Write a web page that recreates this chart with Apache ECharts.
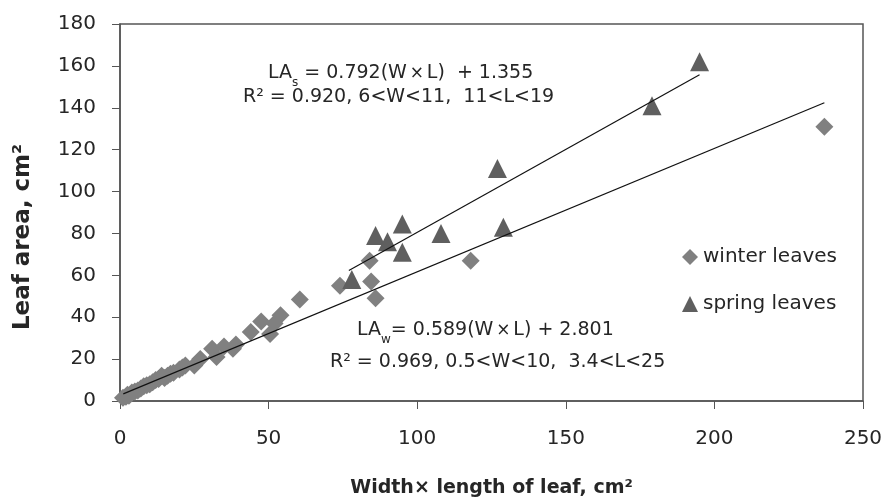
<!DOCTYPE html>
<html>
<head>
<meta charset="utf-8">
<script src="https://cdn.jsdelivr.net/npm/echarts@6/dist/echarts.min.js"></script>
<style>
  html, body { margin: 0; padding: 0; background: #fff; }
  #chart { width: 885px; height: 502px; }
</style>
</head>
<body>
<div id="chart"></div>
<script>
// width x length (cm2) vs leaf area (cm2)
const winterLeaves = [
  [1, 1.5], [2, 2], [2.5, 3], [3, 2.5], [4, 4], [5, 4.5], [6, 5], [7, 6], [8, 7],
  [9, 7.5], [10, 8], [11, 9], [12, 10], [13, 10.5], [14, 12], [15, 11], [16, 12],
  [17, 13], [18, 13.5], [20, 15], [21, 16], [22, 17], [25, 17], [27, 20], [31, 25],
  [32.5, 21], [35, 26], [38, 25], [39, 27], [44, 33], [47.5, 38], [50.5, 32],
  [52, 37], [54, 41], [60.5, 48.5], [74, 55], [84, 67], [84.5, 57], [86, 49],
  [118, 67], [237, 131],
];
const springLeaves = [
  [78, 58], [86, 79], [90, 76], [95, 84.5], [95, 71], [108, 80], [127, 111],
  [129, 83], [179, 141], [195, 162],
];
// fitted lines, end points
const winterTrend = [[1.1, 3.4], [237, 142.4]];
const springTrend = [[77, 62.3], [195, 155.8]];

const xTicks = { min: 0, max: 250, interval: 50 };
const yTicks = { min: 0, max: 180, interval: 20 };

const FONT = 'DejaVu Sans';
const INK = '#262626';

const chartDom = document.getElementById('chart');
const myChart = echarts.init(chartDom, null, { renderer: 'canvas' });

const eqStyle = {
  fontFamily: FONT,
  fontSize: 19,
  fill: INK,
  rich: {
    n: { fontFamily: FONT, fontSize: 19, lineHeight: 24, color: INK },
    sub: { fontFamily: FONT, fontSize: 12, lineHeight: 30, color: INK, verticalAlign: 'bottom' },
    x: { fontFamily: FONT, fontSize: 17, lineHeight: 24, color: '#a0a0a0' },
    sp: { fontFamily: FONT, fontSize: 9, lineHeight: 24 },
  },
};

const option = {
  animation: false,
  textStyle: { fontFamily: FONT },
  grid: {
    left: 120,
    right: 22,
    top: 24,
    bottom: 101,
    outerBoundsMode: 'none',
    containLabel: false,
    show: true,
    borderColor: '#555',
    borderWidth: 1.5,
  },
  legend: {
    orient: 'vertical',
    left: 677,
    top: 240,
    itemWidth: 16,
    itemHeight: 16,
    itemGap: 23,
    data: [
      { name: 'winter leaves', icon: 'diamond', itemStyle: { color: '#808080' } },
      { name: 'spring leaves', icon: 'triangle', itemStyle: { color: '#5f5f5f' } },
    ],
    textStyle: { fontFamily: FONT, fontSize: 20, lineHeight: 24, color: INK },
  },
  xAxis: {
    type: 'value',
    ...xTicks,
    name: 'Width× length of leaf, cm²',
    nameLocation: 'middle',
    nameGap: 78,
    nameTextStyle: { fontFamily: FONT, fontSize: 19, fontWeight: 'bold', color: INK },
    axisLine: { show: true, lineStyle: { color: '#555', width: 1.5 } },
    axisTick: { show: true, length: 8, lineStyle: { color: '#555' } },
    axisLabel: { margin: 28, fontFamily: FONT, fontSize: 20, color: INK },
    splitLine: { show: false },
  },
  yAxis: {
    type: 'value',
    ...yTicks,
    axisLine: { show: true, lineStyle: { color: '#555', width: 1.5 } },
    axisTick: { show: true, length: 8, lineStyle: { color: '#555' } },
    axisLabel: { margin: 24, fontFamily: FONT, fontSize: 20, color: INK },
    splitLine: { show: false },
  },
  series: [
    {
      name: 'winter leaves',
      type: 'scatter',
      symbol: 'diamond',
      symbolSize: 18,
      itemStyle: { color: '#808080', opacity: 1 },
      data: winterLeaves,
      z: 2,
    },
    {
      name: 'spring leaves',
      type: 'scatter',
      symbol: 'triangle',
      symbolSize: 19,
      itemStyle: { color: '#5f5f5f', opacity: 1 },
      data: springLeaves,
      z: 2,
    },
    {
      name: 'winter fit',
      type: 'line',
      data: winterTrend,
      showSymbol: false,
      symbol: 'none',
      lineStyle: { color: '#111', width: 1.2 },
      z: 3,
      silent: true,
    },
    {
      name: 'spring fit',
      type: 'line',
      data: springTrend,
      showSymbol: false,
      symbol: 'none',
      lineStyle: { color: '#111', width: 1.2 },
      z: 3,
      silent: true,
    },
  ],
  graphic: [
    {
      // y axis title, placed a bit below the axis centre as in the original
      type: 'text',
      x: 23,
      y: 237,
      rotation: Math.PI / 2,
      style: {
        text: 'Leaf area, cm²',
        fontFamily: FONT,
        fontSize: 23,
        fontWeight: 'bold',
        fill: INK,
        align: 'center',
        verticalAlign: 'middle',
      },
    },
    {
      type: 'text',
      left: 268,
      top: 64,
      style: {
        ...eqStyle,
        text: '{n|LA}{sub|s}{n| = 0.792(W}{sp| }{x|×}{sp| }{n|L)  + 1.355}',
      },
    },
    {
      type: 'text',
      left: 243,
      top: 88,
      style: {
        ...eqStyle,
        text: '{n|R² = 0.920, 6<W<11,  11<L<19}',
      },
    },
    {
      type: 'text',
      left: 357,
      top: 321,
      style: {
        ...eqStyle,
        text: '{n|LA}{sub|w}{n|= 0.589(W}{sp| }{x|×}{sp| }{n|L) + 2.801}',
      },
    },
    {
      type: 'text',
      left: 330,
      top: 353,
      style: {
        ...eqStyle,
        text: '{n|R² = 0.969, 0.5<W<10,  3.4<L<25}',
      },
    },
  ],
};

myChart.setOption(option);
</script>
</body>
</html>
